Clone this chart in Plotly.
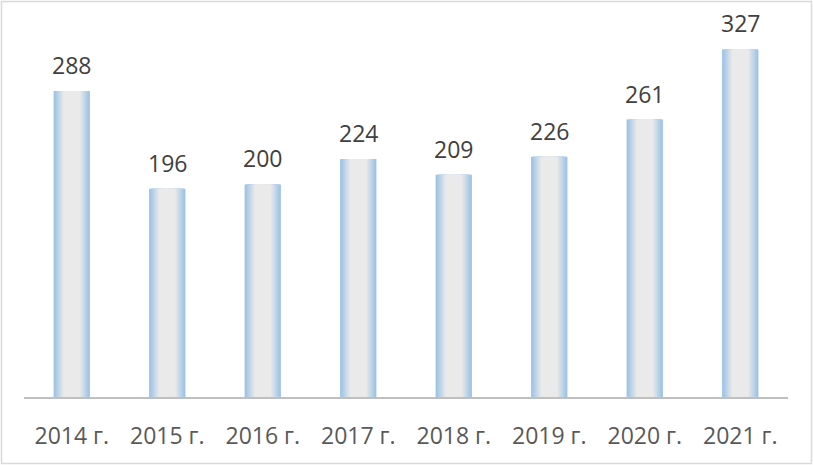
import plotly.graph_objects as go

categories = ["2014 г.", "2015 г.", "2016 г.", "2017 г.", "2018 г.", "2019 г.", "2020 г.", "2021 г."]
values = [288, 196, 200, 224, 209, 226, 261, 327]

W, H = 813, 465
ml, mr, mt, mb = 24, 25, 25, 68

fig = go.Figure()

bar_w = 0.38
n_layers = 14
edge = (157, 195, 230)
center = (234, 234, 234)
for k in range(n_layers):
    t = k / (n_layers - 1)
    t2 = min(1.0, t * 1.6)
    col = tuple(int(edge[i] + (center[i] - edge[i]) * t2) for i in range(3))
    w = bar_w * (1 - 0.85 * t)
    fig.add_trace(go.Bar(
        x=categories, y=values, width=w,
        marker=dict(color="rgb(%d,%d,%d)" % col, line=dict(width=0)),
        hoverinfo="skip", showlegend=False,
    ))

for c, v in zip(categories, values):
    fig.add_annotation(x=c, y=v, text=str(v), showarrow=False, yanchor="bottom",
                       yshift=8, font=dict(family="Open Sans", size=23, color="#404040"))

fig.update_layout(
    width=W, height=H, barmode="overlay",
    margin=dict(l=ml, r=mr, t=mt, b=mb, autoexpand=False),
    paper_bgcolor="white", plot_bgcolor="white",
    xaxis=dict(showline=True, linecolor="#bfbfbf", linewidth=2, ticks="",
               tickfont=dict(family="Open Sans", size=23, color="#595959"),
               showgrid=False, zeroline=False, ticklabelstandoff=17, automargin=False),
    yaxis=dict(range=[0, 350], visible=False, showgrid=False, zeroline=False, automargin=False),
)

pw = W - ml - mr
ph = H - mt - mb
fig.add_shape(type="rect", xref="paper", yref="paper",
              x0=(1.5 - ml) / pw, x1=(W - 1.5 - ml) / pw,
              y0=-(H - 1.5 - mt - ph) / ph, y1=1 + (mt - 1.5) / ph,
              line=dict(color="#d9d9d9", width=1.5), fillcolor="rgba(0,0,0,0)", layer="below")

fig.write_html("out.html", config={"displayModeBar": False},
               post_script="document.body.style.margin='0';document.body.style.overflow='hidden';")
